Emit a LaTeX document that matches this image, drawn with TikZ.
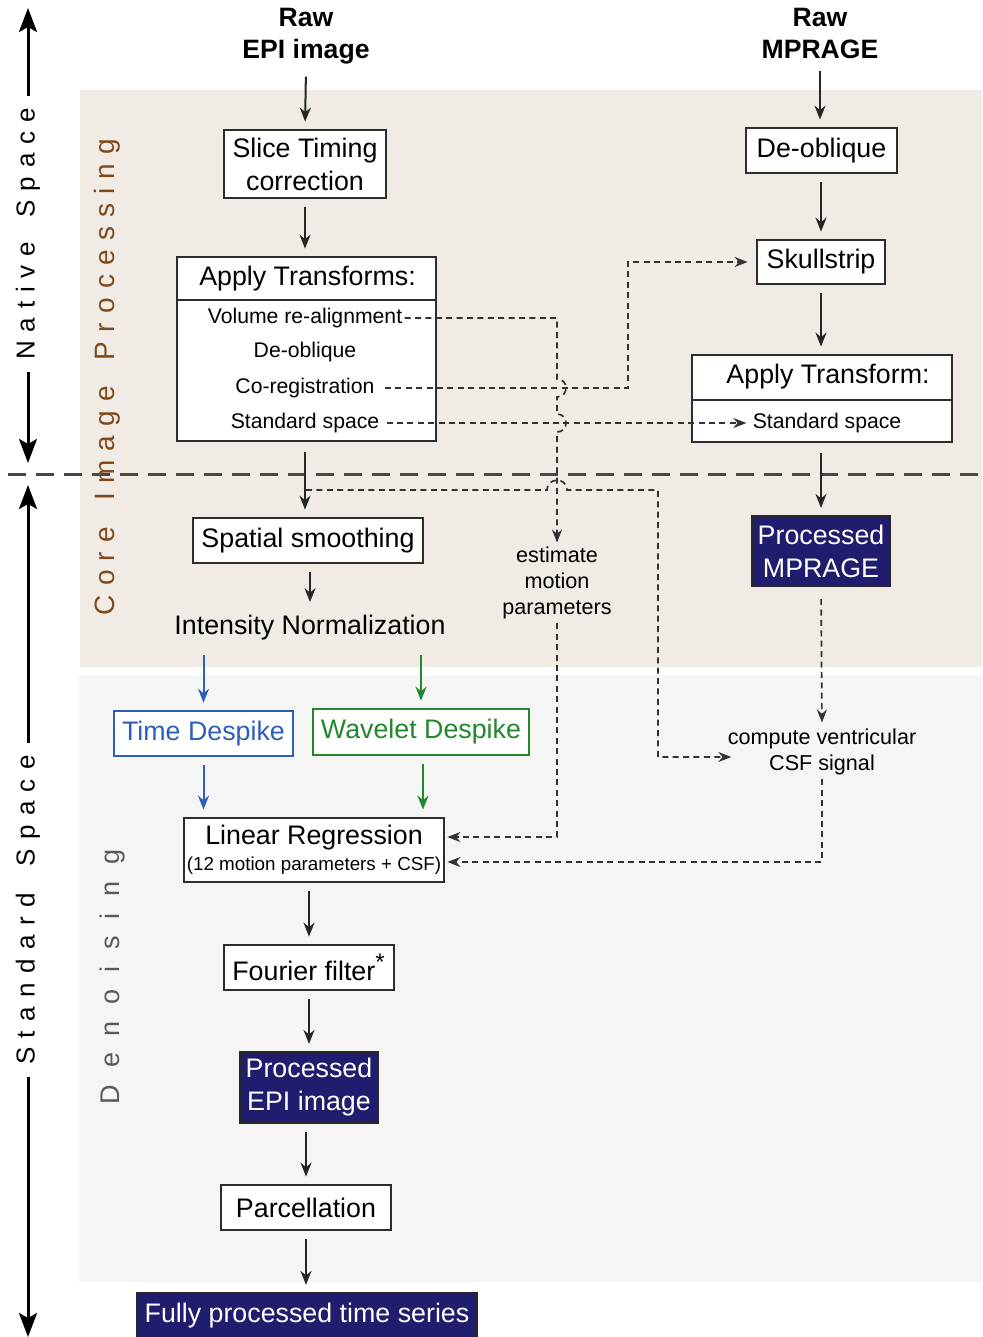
\documentclass[tikz,border=0pt]{standalone}
\usepackage{fontspec}
\setmainfont{Liberation Sans}
\usetikzlibrary{arrows.meta,calc}
\definecolor{beigebg}{RGB}{240,236,229}
\definecolor{graybg}{RGB}{245,245,245}
\definecolor{navyc}{RGB}{32,28,110}
\definecolor{brownc}{RGB}{128,74,28}
\definecolor{bluec}{RGB}{45,95,185}
\definecolor{greenc}{RGB}{35,135,45}
\definecolor{boxc}{RGB}{45,45,45}
\definecolor{dashc}{RGB}{50,50,50}
\newlength\lsgap
\makeatletter
\def\lspc#1{\lsp@first#1\relax}
\def\lsp@first#1{#1\lsp@rest}
\def\lsp@rest#1{\ifx#1\relax\else\hspace{\lsgap}#1\expandafter\lsp@rest\fi}
\makeatother
\tikzset{
  mainfont/.style={font=\fontsize{13.4}{16.5}\selectfont},
  itemfont/.style={font=\fontsize{10.6}{13}\selectfont},
  smallfont/.style={font=\fontsize{10.8}{13}\selectfont},
  headfont/.style={font=\bfseries\fontsize{13.3}{16}\selectfont},
  box/.style={draw=boxc, line width=1.4pt, fill=white, inner sep=0pt, align=center, mainfont},
  navybox/.style={draw=black!85, line width=1.1pt, fill=navyc, text=white, inner sep=0pt, align=center, mainfont},
  bluebox/.style={draw=bluec, line width=1.3pt, fill=white, text=bluec, inner sep=0pt, mainfont},
  greenbox/.style={draw=greenc, line width=1.3pt, fill=white, text=greenc, inner sep=0pt, mainfont},
  sep/.style={draw=boxc, line width=1.4pt},
  arr/.style={draw=black!85, line width=1pt, -{Stealth[length=7pt,width=5.5pt]}, shorten <=4pt, shorten >=3.5pt},
  bluearr/.style={arr, draw=bluec, -{Stealth[length=7pt,width=5.5pt,fill=bluec]}},
  greenarr/.style={arr, draw=greenc, -{Stealth[length=7pt,width=5.5pt,fill=greenc]}},
  darr/.style={draw=dashc, line width=0.85pt, dash pattern=on 3pt off 2.2pt, -{Stealth[length=6.5pt,width=5pt]}},
  sidearr/.style={draw=black, line width=1.5pt, -{Stealth[length=12pt,width=9pt,inset=2.5pt]}, shorten <=2pt},
}
\begin{document}
\begin{tikzpicture}[x=0.5pt,y=-0.5pt]
\useasboundingbox (0,0) rectangle (982,1337);
% background bands
\fill[beigebg] (80,90) rectangle (982,667);
\fill[graybg] (79,675) rectangle (982,1282);
% divider
\draw[line width=1.5pt, dash pattern=on 9pt off 5pt, draw=black!72] (8,474) -- (982,474);

% side labels
\setlength\lsgap{4.4pt}
\node[rotate=90, font=\fontsize{13}{15}\selectfont, inner sep=4pt] (ns) at (28,234) {\lspc{Native~Space}};
\draw[sidearr] (ns.east) -- (28,8);
\draw[sidearr] (ns.west) -- (28,463);
\setlength\lsgap{4.75pt}
\node[rotate=90, font=\fontsize{13}{15}\selectfont, inner sep=4pt] (ss) at (28,910) {\lspc{Standard~Space}};
\draw[sidearr] (ss.east) -- (28,485);
\draw[sidearr] (ss.west) -- (28,1337);
\setlength\lsgap{4.6pt}
\node[rotate=90, font=\fontsize{14}{16}\selectfont, text=brownc, inner sep=0pt] (cip) at (107,377) {\lspc{Core~Image~Processing}};
\setlength\lsgap{8.4pt}
\node[rotate=90, font=\fontsize{13.5}{16}\selectfont, text=black!65, inner sep=0pt] (den) at (113,977) {\lspc{Denoising}};

% headings
\node[headfont, align=center, inner sep=2pt, anchor=north] (rawepi) at (306,4) {Raw\\EPI image};
\node[headfont, align=center, inner sep=2pt, anchor=north] (rawmp) at (820,4) {Raw\\MPRAGE};

% EPI column
\node[box, minimum width=81pt, minimum height=34pt] (slice) at (305,164) {Slice Timing\\correction};
\node[box, minimum width=129.5pt, minimum height=92pt] (atf) at (306.5,349) {};
\draw[sep] (177,300) -- (436,300);
\node[mainfont, inner sep=0pt] (atfh) at (307.5,279) {Apply Transforms:};
\node[itemfont, inner sep=1pt] (vra) at (305,318) {Volume re-alignment};
\node[itemfont, inner sep=1pt] (deo) at (305,352) {De-oblique};
\node[itemfont, inner sep=5pt] (coreg) at (305,388) {Co-registration};
\node[itemfont, inner sep=3.5pt] (stdl) at (305,423) {Standard space};

\node[box, minimum width=115pt, minimum height=22.5pt] (smooth) at (308,540.5) {Spatial smoothing};
\node[mainfont, inner sep=3pt] (inorm) at (310,628) {Intensity Normalization};
\node[bluebox, minimum width=89.5pt, minimum height=22.5pt] (tdesp) at (203.5,733.5) {Time Despike};
\node[greenbox, minimum width=108pt, minimum height=23pt] (wdesp) at (421,732) {Wavelet Despike};
\node[box, minimum width=130pt, minimum height=32pt] (linreg) at (314,850) {Linear Regression\\[-3.5pt]{\fontsize{9.4}{11}\selectfont(12 motion parameters + CSF)}};
\node[box, minimum width=85pt, minimum height=22.5pt] (fourier) at (309,967.5) {Fourier filter\textsuperscript{\fontsize{12}{12}\selectfont *}};
\node[navybox, minimum width=69pt, minimum height=35.5pt] (pepi) at (309,1087.5) {Processed\\EPI image};
\node[box, minimum width=85pt, minimum height=22.5pt] (parc) at (306,1207.5) {Parcellation};
\node[navybox, minimum width=170pt, minimum height=23pt] (fully) at (307,1316) {Fully processed time series};

% MPRAGE column
\node[box, minimum width=75.5pt, minimum height=22.5pt] (deob) at (821.5,150.5) {De-oblique};
\node[box, minimum width=64pt, minimum height=22pt] (skull) at (821,262) {Skullstrip};
\node[box, minimum width=130pt, minimum height=43.5pt] (atr) at (822,398.5) {};
\draw[sep] (692,400) -- (952,400);
\node[mainfont, inner sep=0pt] (atrh) at (828,377) {Apply Transform:};
\node[itemfont, inner sep=1pt] (stdr) at (827,423) {Standard space};
\node[navybox, minimum width=69pt, minimum height=35pt] (pmp) at (821,551) {Processed\\MPRAGE};
\node[smallfont, align=center, inner sep=2pt] (cvc) at (822,752) {compute ventricular\\CSF signal};
\node[smallfont, align=center, inner sep=2pt] (emp) at (557,583) {estimate\\motion\\parameters};

% solid arrows
\draw[arr] (rawepi.south) -- (slice.north);
\draw[arr] (slice.south) -- (slice.south |- atf.north);
\draw[arr, shorten <=5pt] (atf.south -| slice.south) -- (slice.south |- smooth.north);
\draw[arr] (smooth.south -| inorm.north) -- (inorm.north);
\draw[bluearr] (tdesp.north |- inorm.south) -- (tdesp.north);
\draw[greenarr] (wdesp.north |- inorm.south) -- (wdesp.north);
\draw[bluearr] (tdesp.south) -- (tdesp.south |- linreg.north);
\draw[greenarr] ([xshift=1pt]wdesp.south) -- ([xshift=1pt]wdesp.south |- linreg.north);
\draw[arr] (linreg.south -| fourier.north) -- (fourier.north);
\draw[arr] (fourier.south) -- (pepi.north);
\draw[arr] (pepi.south -| parc.north) -- (parc.north);
\draw[arr] (parc.south) -- (parc.south |- fully.north);
\draw[arr] (rawmp.south) -- (rawmp.south |- deob.north);
\draw[arr] (deob.south -| skull.north) -- (skull.north);
\draw[arr] (skull.south) -- (skull.south |- atr.north);
\draw[arr, shorten <=5pt] (atr.south -| pmp.north) -- (pmp.north);

% dashed connectors
\coordinate (br) at (306,490);
\draw[darr] (vra.east) -- (557,318) -- (557,379) .. controls (569,379) and (569,397) .. (557,397)
  -- (557,414) .. controls (569,414) and (569,432) .. (557,432) -- (emp.north);
\draw[darr, shorten >=4pt] (coreg.east) -- (628,388) |- (skull.west);
\draw[darr, shorten >=2pt] (stdl.east) -- (stdl.east -| stdr.west);
\draw[darr] (br) -- (547,490) .. controls (547,477) and (567,477) .. (567,490) -- (658,490) |- ([yshift=-2.5pt,xshift=4pt]cvc.west);
\draw[darr, shorten <=6pt, shorten >=1pt] (pmp.south) -- (cvc.north);
\draw[darr, shorten >=1pt] (emp.south) |- ([yshift=6.5pt]linreg.east);
\draw[darr, shorten >=1pt] (cvc.south) |- ([yshift=-6pt]linreg.east);
\end{tikzpicture}
\end{document}
